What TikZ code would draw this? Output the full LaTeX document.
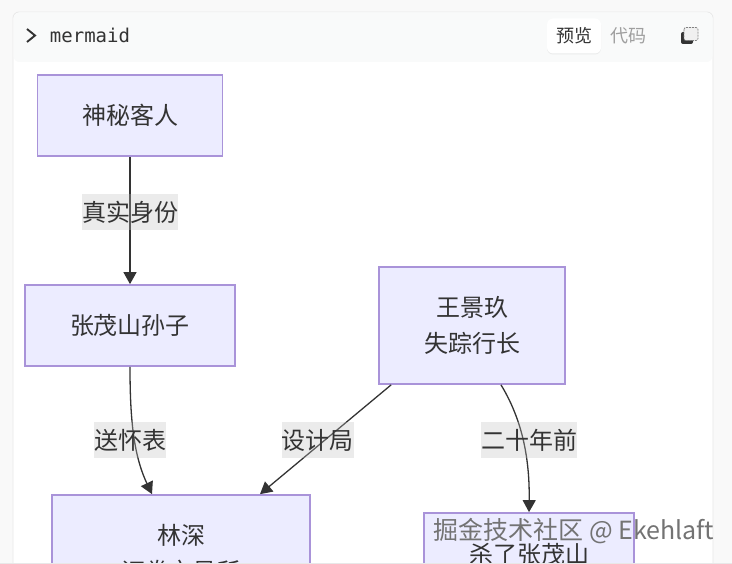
\documentclass[tikz,border=0pt]{standalone}
\usepackage{fontspec}
\setmonofont{DejaVu Sans Mono}
\newfontfamily\cjk{Noto Sans CJK SC}
\usetikzlibrary{positioning,arrows.meta,calc,shadows}

\definecolor{pagebg}{HTML}{F9F9F9}
\definecolor{headbg}{HTML}{F9FAFA}
\definecolor{cardline}{HTML}{E8E8E8}
\definecolor{nodefill}{HTML}{ECECFF}
\definecolor{nodeline}{HTML}{A993D9}
\definecolor{labelbg}{HTML}{BFBFBF}
\definecolor{inkdark}{HTML}{333333}

\begin{document}
\begin{tikzpicture}[
          x=1pt, y=-1pt,
          flow/.style={rectangle, draw=nodeline, line width=1.7pt, fill=nodefill,
              text=inkdark, inner sep=0pt, font=\cjk\fontsize{24}{36}\selectfont, align=center},
          tag/.style={rectangle, fill=labelbg, fill opacity=0.3, text opacity=1, text=inkdark, inner sep=0pt,
              minimum height=36pt, font=\cjk\fontsize{24}{30}\selectfont},
          arr/.style={-{Triangle[length=12pt,width=13pt]}, line width=1.3pt, inkdark},
          tab/.style={inner sep=0pt, font=\cjk\fontsize{18}{22}\selectfont}
        ]
        \path[use as bounding box, fill=pagebg] (0,0) rectangle (732,564);
        % card and its header
        \path[fill=white, draw=cardline, line width=0.8pt, rounded corners=6pt]
            (13,12) rectangle (713,590);
        \path[fill=headbg, rounded corners=6pt] (13.5,12.5) -- (712.5,12.5) -- (712.5,62) -- (13.5,62) -- cycle;
        \node[inner sep=0pt, font=\ttfamily\fontsize{19}{22}\selectfont, text=inkdark] (title) at (90,35) {mermaid};
        \coordinate (chevtop) at (27,29);
        \coordinate (chevtip) at (35,35.5);
        \coordinate (chevend) at (27,42);
        \draw[line width=1.9pt, inkdark] (chevtop) -- (chevtip) -- (chevend);
        \node[fill=white, rounded corners=6pt, minimum width=54pt, minimum height=35pt,
            drop shadow={shadow xshift=0pt, shadow yshift=-1pt, opacity=0.12}] (tabon) at (574,36) {};
        \node[tab, text=inkdark] (tabtext) at (tabon) {预览};
        \node[tab, text=gray!75, right=18pt of tabtext] (taboff) {代码};
        \fill[inkdark, rounded corners=2pt] (681,32) rectangle (693,44);
        \draw[gray, fill=white!94!black, line width=0.7pt, dash pattern=on 2pt off 1pt, rounded corners=2pt] (684,27.5) rectangle (698,40.5);
        % nodes
        \node[flow, minimum width=185pt, minimum height=81pt] (guest) at (130,115.5) {神秘客人};
        \node[flow, minimum width=210pt, minimum height=81pt] (grandson) at (130,325.5) {张茂山孙子};
        \node[flow, minimum width=186pt, minimum height=117pt] (wang) at (472,325.5) {王景玖\\失踪行长};
        \node[flow, minimum width=258pt, minimum height=117pt] (lin) at (181,553.5) {林深\\证券交易所};
        \node[flow, minimum width=210pt, minimum height=117pt] (kill) at (529,571.5) {杀了张茂山\\~};
        % edges
        \draw[arr] (guest.south) -- (grandson.north);
        \draw[arr] (grandson.south) .. controls +(0,49) and ($(lin.north)+(-48,-40)$) .. ($(lin.north)+(-29,0)$);
        \draw[arr] ($(wang.south west)+(13,0)$) -- ($(lin.north)+(79,0)$);
        \draw[arr] ($(wang.south)+(29,0)$) .. controls +(17,28) and ($(kill.north)+(1,-63)$) .. (kill.north);
        % edge labels
        \node[tag] (lreal) at (130,212) {真实身份};
        \node[tag] (lwatch) at (130,440) {送怀表};
        \node[tag] (ldesign) at (317.5,440) {设计局};
        \node[tag] (lyears) at (529,440) {二十年前};
        % watermark
        \node[inner sep=0pt, text=black!55, font=\cjk\fontsize{25}{30}\selectfont] (mark) at (574,531.5) {掘金技术社区 @ Ekehlaft};
        \path[fill=cardline] (0,562.8) rectangle (732,564);
      \end{tikzpicture}
\end{document}
